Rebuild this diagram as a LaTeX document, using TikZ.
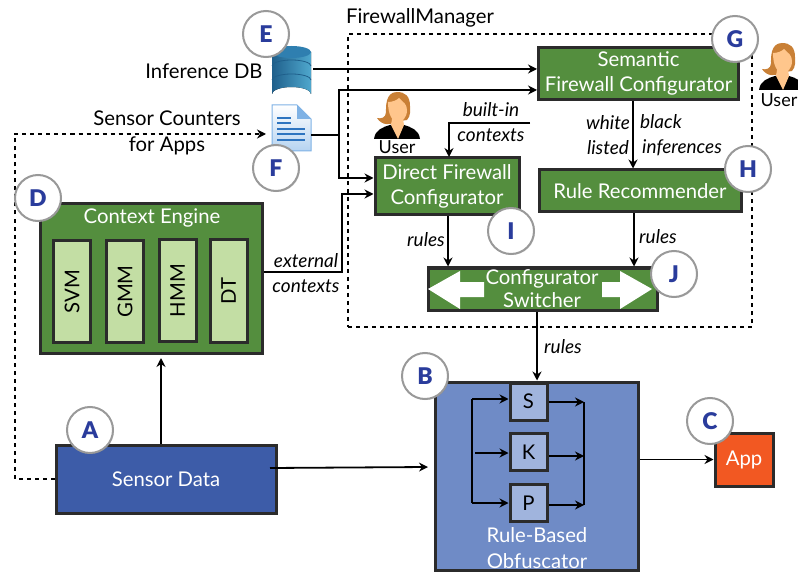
\documentclass[tikz,border=0pt]{standalone}
\usepackage{fontspec}
\setmainfont{Lato}
\newfontfamily\badgefont{Lato Black}
\usetikzlibrary{shadows, arrows.meta}

\definecolor{boxgreen}{HTML}{548E3E}
\definecolor{palegreen}{HTML}{C3DEA4}
\definecolor{sensorblue}{HTML}{3D5CA8}
\definecolor{obfblue}{HTML}{6F8BC6}
\definecolor{paleblue}{HTML}{A0B4DD}
\definecolor{appred}{HTML}{F25822}
\definecolor{edgegray}{HTML}{2B2B2B}
\definecolor{letterblue}{HTML}{2A3C9C}
\definecolor{dbdark}{HTML}{1F5F8B}
\definecolor{dblight}{HTML}{4FA8CE}
\definecolor{dbtop}{HTML}{2F7FB0}
\definecolor{pageblue}{HTML}{2D74C0}
\definecolor{pageedge}{HTML}{7FB2E5}
\definecolor{pagelow}{HTML}{B5D3F1}

\tikzset{
    bodytext/.style={font=\fontsize{20.3}{25.5}\selectfont, align=center},
    tagtext/.style={font=\fontsize{19}{25}\selectfont\itshape, align=center, inner sep=0pt},
    usertext/.style={inner sep=0pt, font=\fontsize{18}{20}\selectfont},
    block/.style={draw=edgegray, line width=3pt, inner sep=0pt, bodytext},
    greenbox/.style={block, fill=boxgreen, text=white},
    modelbox/.style={block, fill=palegreen, text=black, minimum width=37pt, minimum height=102pt},
    stagebox/.style={block, fill=paleblue, text=black, minimum width=37pt, minimum height=37pt},
    link/.style={line width=1.8pt},
    looplink/.style={line width=1.8pt, dash pattern=on 4pt off 4pt},
    badge/.style={circle, draw=black!40, line width=2pt, fill=white, minimum size=46pt, inner sep=0pt,
        drop shadow={shadow xshift=1pt, shadow yshift=-1pt, opacity=0.25},
        text=letterblue, font=\fontsize{23}{23}\selectfont\badgefont},
    usericon/.pic={
        \fill[black] (-23,47) .. controls (-22,38) and (-14,35) .. (-7,33) -- (7,33)
            .. controls (14,35) and (22,38) .. (23,47) -- cycle;
        \fill[brown!85!orange] (0,0) .. controls (-12,0) and (-11,16) .. (-11,20)
            .. controls (-11,26) and (-16,27) .. (-20,26) .. controls (-15,34) and (-6,33) .. (-3,30)
            -- (10,28) .. controls (14,24) and (13,18) .. (13,14) .. controls (13,4) and (8,0) .. (0,0) -- cycle;
        \fill[orange!45!white] (-9,10) .. controls (-4,10) and (0,8) .. (2,6)
            .. controls (6,10) and (10,12) .. (10,18) .. controls (10,26) and (5,30) .. (1,30)
            .. controls (-5,30) and (-9,22) .. (-9,10) -- cycle;
        \fill[orange!45!white] (-5,27) -- (6,27) -- (7,33) -- (1,47) -- (-6,33) -- cycle;
    }
}

\begin{document}
\begin{tikzpicture}[x=1pt, y=-1pt, >={Stealth[length=9pt, width=9pt]}]
    \useasboundingbox (0,0) rectangle (798,572);

    \node[draw, looplink, minimum width=404pt, minimum height=293pt] (manager) at (550,180.5) {};
    \node[bodytext, inner sep=0pt] (managertitle) at (420,18) {FirewallManager};

    \node[greenbox, minimum width=200pt, minimum height=52pt] (semantic) at (638.5,73.5) {Semantic\\Firewall Configurator};
    \node[greenbox, minimum width=202pt, minimum height=42pt] (recommender) at (640,191) {Rule Recommender};
    \node[greenbox, minimum width=144pt, minimum height=57pt] (direct) at (447,186.5) {Direct Firewall\\Configurator};
    \node[greenbox, minimum width=229pt, minimum height=42pt] (switcher) at (543,289) {};

    \fill[white] (428,289) -- (460,271) -- (460,282) -- (484,282) -- (484,297) -- (460,297) -- (460,309) -- cycle;
    \fill[white] (652,289) -- (620,271) -- (620,282) -- (602,282) -- (602,297) -- (620,297) -- (620,309) -- cycle;
    \node[text=white, align=center, inner sep=0pt, font=\fontsize{20.3}{23}\selectfont] (switchertext) at (542,289) {Configurator\\Switcher};

    \node[greenbox, minimum width=222pt, minimum height=149pt] (engine) at (151,278.5) {};
    \node[bodytext, text=white, inner sep=0pt] (enginetitle) at (152,218) {Context Engine};
    \foreach \name/\cx/\cy in {SVM/72/291.5, GMM/125/291.5, HMM/177.5/290.5, DT/228.5/291} {
        \node[modelbox] (model\name) at (\cx,\cy) {\rotatebox{90}{\name}};
    }

    \node[block, fill=sensorblue, text=white, minimum width=220pt, minimum height=68pt] (sensors) at (166,479) {Sensor Data};
    \node[block, fill=obfblue, minimum width=203pt, minimum height=188pt] (obfuscator) at (536.5,476) {};
    \node[bodytext, text=white, inner sep=0pt] (obftitle) at (537,548) {Rule-Based\\Obfuscator};
    \foreach \name/\cy in {S/401.5, K/452, P/503} {
        \node[stagebox] (stage\name) at (528.5,\cy) {\name};
    }
    \node[block, fill=appred, text=white, minimum width=58pt, minimum height=53pt] (app) at (744,459.5) {App};

    % database
    \fill[left color=dbdark, right color=dblight] (272,52) -- (272,94)
        arc[start angle=180, end angle=360, x radius=19.5, y radius=7] -- (311,52) -- cycle;
    \draw[dbdark, line width=0.8pt] (272,66) arc[start angle=180, end angle=360, x radius=19.5, y radius=6];
    \draw[dbdark, line width=0.8pt] (272,80) arc[start angle=180, end angle=360, x radius=19.5, y radius=6];
    \fill[dbtop] (291.5,52) ellipse[x radius=19.5, y radius=6];
    \coordinate (dbicon) at (313,69);

    % report page
    \shade[top color=white, bottom color=pagelow, draw=pageedge, line width=1pt]
        (272,105) -- (297,105) -- (311,119) -- (311,151) -- (272,151) -- cycle;
    \fill[pageedge] (297,105) -- (311,119) -- (297,119) -- cycle;
    \foreach \ly/\lx in {118/291, 123/291, 129/305, 134/305, 140/305} {
        \draw[pageblue, line width=1.6pt] (277,\ly) -- (\lx,\ly);
    }
    \coordinate (reporticon) at (311,135);

    \pic at (397,92) {usericon};
    \node[usertext] (userleft) at (397,147) {User};
    \pic at (782,43) {usericon};
    \node[usertext, anchor=east] (userright) at (797.5,100) {User};

    \coordinate (fork) at (339,135);
    \coordinate (semanticin) at (semantic.west |- 0,90);
    \coordinate (directin) at (direct.west |- 0,178);
    \coordinate (externalin) at (direct.west |- 0,194);
    \coordinate (externalout) at (engine.east |- 0,272);
    \coordinate (builtinfrom) at (530,123);
    \coordinate (builtinto) at (449,157);
    \coordinate (sensorloop) at (sensors.west |- 0,479);
    \coordinate (reportin) at (266,134);
    \coordinate (sensorout) at (270,468);
    \coordinate (obfin) at (428,467);

    \draw[link, ->] (dbicon) -- (semantic.west |- dbicon);
    \draw[link] (reporticon) -- (fork);
    \draw[link, ->] (fork) |- (semanticin);
    \draw[link, ->] (fork) |- (directin);
    \draw[link, ->] (externalout) -| (342,194) -- (externalin);
    \draw[link, ->] (builtinfrom) -| (builtinto);
    \draw[link, ->] (semantic.south -| 633,0) -- (recommender.north -| 633,0);
    \draw[link, ->] (direct.south -| 448,0) -- (switcher.north -| 448,0);
    \draw[link, ->] (recommender.south -| 634,0) -- (switcher.north -| 634,0);
    \draw[link, ->] (switcher.south -| 537,0) -- (obfuscator.north -| 537,0);
    \draw[link, ->] (sensors.north -| 161,0) -- (161,358);
    \draw[link, ->] (sensorout) -- (obfin);
    \draw[link, ->] (obfuscator.east |- app) -- (app.west);
    \draw[looplink, ->] (sensorloop) -| (15,134) -- (reportin);

    \coordinate (splitin) at (472,399);
    \coordinate (splitout) at (472,503);
    \coordinate (mergeout) at (584,402);
    \coordinate (mergein) at (584,505);
    \draw[link] (splitin) -- (splitout) (mergeout) -- (mergein);
    \draw[link, ->] (splitin) -- (stageS.west |- splitin);
    \draw[link, ->] (475,453) -- (stageK.west |- 0,453);
    \draw[link, ->] (splitout) -- (stageP.west |- splitout);
    \draw[link, ->] (stageS.east |- mergeout) -- (mergeout);
    \draw[link, ->] (stageK.east |- 0,456) -- (584,456);
    \draw[link, ->] (stageP.east |- mergein) -- (mergein);

    \node[bodytext, inner sep=0pt] (dblabel) at (204,71) {Inference DB};
    \node[bodytext, inner sep=0pt] (countlabel) at (167,133) {Sensor Counters\\for Apps};
    \node[tagtext] (builtlabel) at (491,122) {built-in\\contexts};
    \node[tagtext] (whitelabel) at (608,135) {white\\listed};
    \node[tagtext] (blacklabel) at (661,122) {black};
    \node[tagtext] (inferlabel) at (682,148) {inferences};
    \node[tagtext] (rulesleft) at (426,240) {rules};
    \node[tagtext] (rulesright) at (658,237) {rules};
    \node[tagtext] (rulesdown) at (563,347) {rules};
    \node[tagtext] (externlabel) at (306,273) {external\\contexts};

    \foreach \letter/\bx/\by in {
        A/90/430,
        B/425/376,
        C/710/421,
        D/38/198,
        E/266/34,
        F/276/168,
        G/735/39,
        H/748/169,
        I/511/231,
        J/674/274
    } {
        \node[badge] (badge\letter) at (\bx,\by) {\letter};
    }
\end{tikzpicture}
\end{document}
